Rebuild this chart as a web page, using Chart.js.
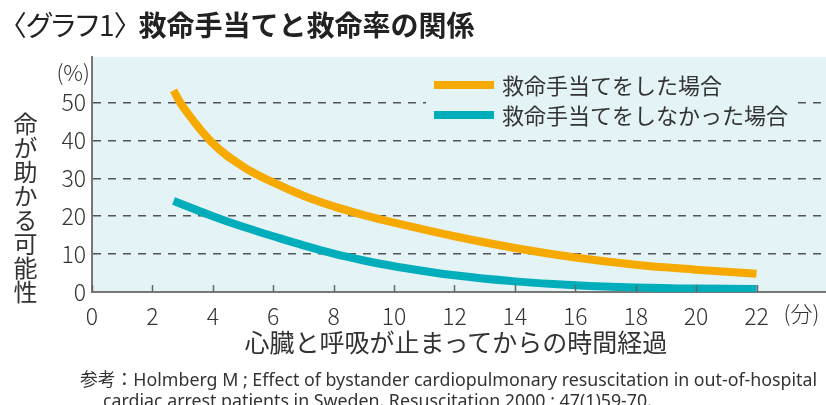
<!DOCTYPE html>
<html>
<head>
<meta charset="utf-8">
<script src="https://cdn.jsdelivr.net/npm/chart.js@4.4.0/dist/chart.umd.min.js"></script>
<style>
    body { margin: 0; background: #fff; font-family: "Noto Sans CJK JP", "Noto Sans", sans-serif; color: #222; }
    #wrap { position: relative; width: 826px; height: 405px; overflow: hidden; }
    #chart { position: absolute; left: 0; top: 0; }
    .txt { position: absolute; white-space: nowrap; }
    #title { left: 12px; top: 6px; font-size: 28px; line-height: 36px; }
    #title span { font-feature-settings: "palt"; font-weight: 400; padding-right: 10px; }
    #title b { font-weight: 700; }
    #ylabel { left: 12px; top: 112px; font-size: 24px; line-height: 26px; writing-mode: vertical-rl; color: #333; }
    #xlabel { left: 0; width: 912px; top: 326px; text-align: center; font-size: 25px; line-height: 30px; color: #333; }
    .ref { font-size: 17.8px; line-height: 20px; color: #333; font-family: "Noto Sans", "Noto Sans CJK JP", sans-serif; }
    #ref1 { left: 80px; top: 369px; }
    #ref2 { left: 103px; top: 390px; }
</style>
</head>
<body>
<div id="wrap">
    <canvas id="chart" width="826" height="405"></canvas>
    <div id="title" class="txt"><span>〈グラフ1〉</span><b>救命手当てと救命率の関係</b></div>
    <div id="ylabel" class="txt">命が助かる可能性</div>
    <div id="xlabel" class="txt">心臓と呼吸が止まってからの時間経過</div>
    <div id="ref1" class="txt ref">参考：Holmberg M ; Effect of bystander cardiopulmonary resuscitation in out-of-hospital</div>
    <div id="ref2" class="txt ref">cardiac arrest patients in Sweden. Resuscitation 2000 ; 47(1)59-70.</div>
</div>
<script>
const minutes = [2.7, 3, 4, 5, 6, 7, 8, 9, 10, 12, 14, 16, 18, 20, 22];
const withCare = [53.2, 49, 39.2, 33.1, 28.9, 25.4, 22.6, 20.3, 18.3, 14.7, 11.6, 9.1, 7.2, 5.9, 4.8];
const withoutCare = [24, 23.1, 20, 17.2, 14.7, 12.3, 10.1, 8.3, 6.8, 4.4, 2.8, 1.8, 1.2, 0.9, 0.8];
const seriesLabels = ['救命手当てをした場合', '救命手当てをしなかった場合'];
const seriesColors = ['#f6aa00', '#00aebb'];
const xTicks = [0, 2, 4, 6, 8, 10, 12, 14, 16, 18, 20, 22];
const yTicks = [0, 10, 20, 30, 40, 50];

const FONT = '"Noto Sans CJK JP", "Noto Sans", sans-serif';
const BG = '#e4f3f5';

const toPoints = values => values.map((v, i) => ({ x: minutes[i], y: v }));

const decor = {
    id: 'decor',
    beforeDraw(chart) {
        const { ctx, chartArea: a } = chart;
        ctx.save();
        ctx.fillStyle = BG;
        ctx.fillRect(a.left, a.top, a.right - a.left, a.bottom - a.top);
        ctx.restore();
    },
    afterDatasetsDraw(chart) {
        const { ctx, chartArea: a, scales: { x, y } } = chart;
        ctx.save();
        // tick marks point up into the plot
        ctx.strokeStyle = '#666';
        ctx.lineWidth = 1.5;
        xTicks.forEach(t => {
            const px = Math.round(x.getPixelForValue(t)) + 0.5;
            ctx.beginPath();
            ctx.moveTo(px, a.bottom);
            ctx.lineTo(px, a.bottom - 7);
            ctx.stroke();
        });
        // legend, on a box that hides the grid
        ctx.fillStyle = BG;
        ctx.fillRect(426, 66, 372, 66);
        ctx.font = '22px ' + FONT;
        ctx.textBaseline = 'middle';
        chart.data.datasets.forEach((ds, i) => {
            const ly = 85 + i * 30;
            ctx.strokeStyle = ds.borderColor;
            ctx.lineWidth = 8;
            ctx.beginPath();
            ctx.moveTo(434, ly);
            ctx.lineTo(494, ly);
            ctx.stroke();
            ctx.fillStyle = '#333';
            ctx.fillText(ds.label, 502, ly + 1);
        });
        // units
        ctx.fillStyle = '#333';
        ctx.font = '300 22px ' + FONT;
        ctx.textAlign = 'right';
        ctx.fillText('(%)', 90, y.getPixelForValue(50) - 30);
        ctx.textAlign = 'left';
        ctx.fillText('(分)', x.getPixelForValue(22) + 27, a.bottom + 22);
        ctx.restore();
    }
};

new Chart(document.getElementById('chart'), {
    type: 'line',
    data: {
        datasets: [
            { label: seriesLabels[0], data: toPoints(withCare), borderColor: seriesColors[0] },
            { label: seriesLabels[1], data: toPoints(withoutCare), borderColor: seriesColors[1] }
        ].map(d => ({
            ...d,
            borderWidth: 8,
            pointRadius: 0,
            tension: 0.4,
            borderCapStyle: 'butt',
            fill: false
        }))
    },
    options: {
        responsive: false,
        animation: false,
        layout: { padding: { top: 57, left: 0, right: 0, bottom: 0 } },
        plugins: { legend: { display: false }, tooltip: { enabled: false } },
        scales: {
            x: {
                type: 'linear',
                min: 0,
                max: 24.3,
                afterBuildTicks: s => { s.ticks = xTicks.map(v => ({ value: v })); },
                afterFit: s => { s.height = 113; },
                grid: { display: false, drawTicks: false },
                border: { color: '#777', width: 2 },
                ticks: { padding: 10, color: '#333', font: { family: FONT, size: 23, weight: 300 }, maxRotation: 0, autoSkip: false }
            },
            y: {
                min: 0,
                max: 62,
                afterBuildTicks: s => { s.ticks = yTicks.map(v => ({ value: v })); },
                afterFit: s => { s.width = 92; },
                grid: {
                    drawTicks: false,
                    color: c => c.tick && c.tick.value === 0 ? 'rgba(0,0,0,0)' : '#555',
                    lineWidth: 1.5
                },
                border: { color: '#777', width: 2, dash: [8, 7] },
                ticks: { padding: 6, color: '#333', font: { family: FONT, size: 23, weight: 300 } }
            }
        }
    },
    plugins: [decor]
});
</script>
</body>
</html>
